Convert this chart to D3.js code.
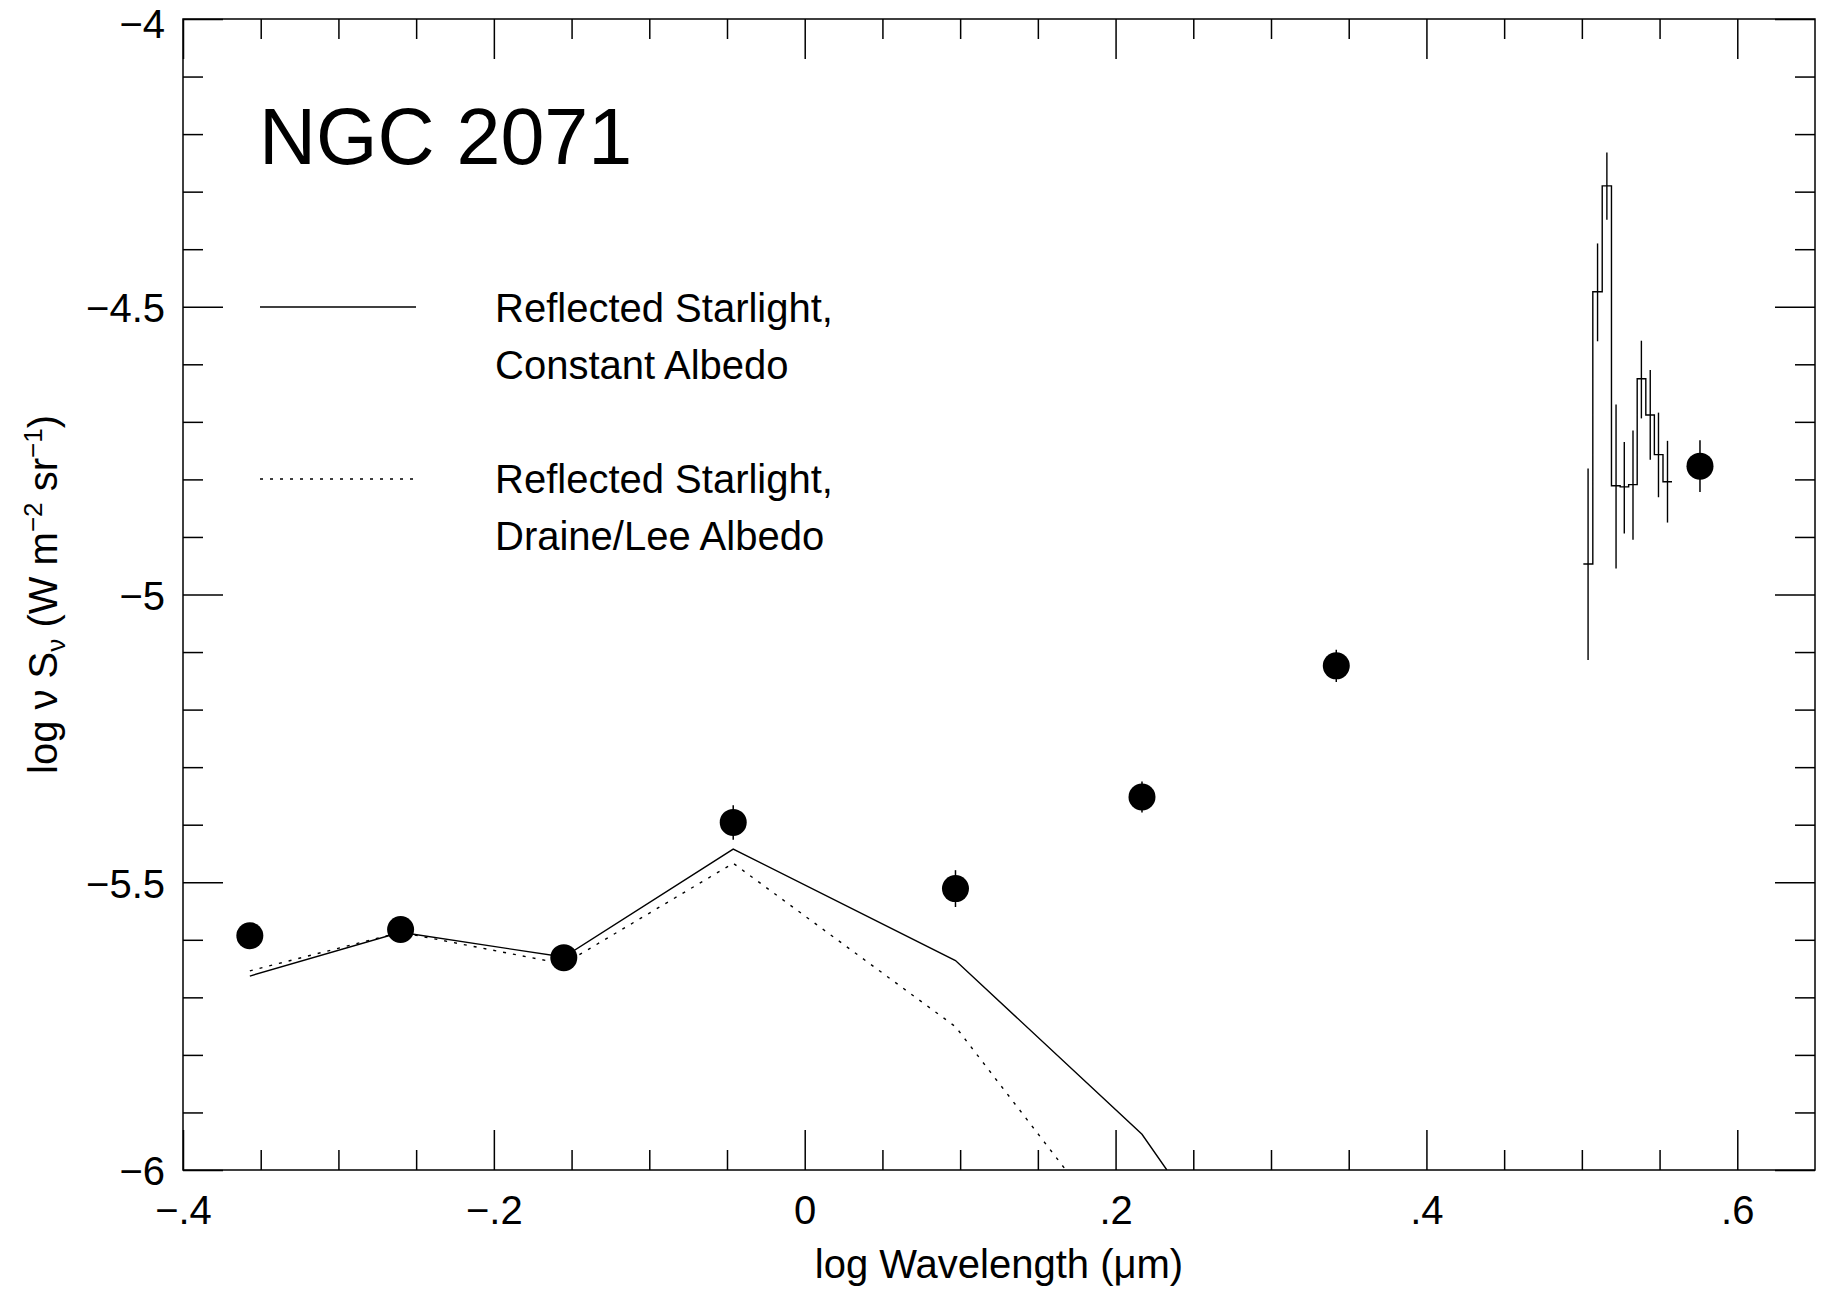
<!DOCTYPE html>
<html>
<head>
<meta charset="utf-8">
<script src="https://cdn.jsdelivr.net/npm/d3@7"></script>
<style>
  body { margin: 0; background: #fff; }
  svg { display: block; font-family: "Liberation Sans", Arial, Helvetica, sans-serif; }
  .axis path { display: none; }
  .axis line { stroke: #000; stroke-width: 1.5; }
  .axis text { font-size: 40px; fill: #000; font-family: "Liberation Sans", Arial, sans-serif; }
</style>
</head>
<body>
<svg width="1827" height="1297"></svg>
<script>
// broadband photometry (filled circles)
const photX = [-0.357, -0.260, -0.155, -0.046, 0.097, 0.217, 0.342, 0.576];
const photY = [-5.593, -5.582, -5.631, -5.396, -5.511, -5.352, -5.124, -4.777];
const photErr = [0.015, 0.015, 0.015, 0.030, 0.032, 0.027, 0.028, 0.045];

// reflected starlight models
const constX = [-0.357, -0.260, -0.155, -0.046, 0.097, 0.217, 0.233];
const constAlbedo = [-5.663, -5.587, -5.630, -5.4425, -5.636, -5.938, -6.0];
const draineX = [-0.357, -0.260, -0.155, -0.046, 0.097, 0.168];
const draineLee = [-5.654, -5.587, -5.642, -5.467, -5.751, -6.0];

// spectrum bins
const specX = [0.5040, 0.5101, 0.5161, 0.5220, 0.5273, 0.5329, 0.5383, 0.5440, 0.5493, 0.5551];
const specY = [-4.947, -4.474, -4.290, -4.811, -4.813, -4.809, -4.625, -4.688, -4.757, -4.804];
const specLo = [-5.114, -4.560, -4.349, -4.955, -4.894, -4.905, -4.694, -4.766, -4.831, -4.875];
const specHi = [-4.781, -4.390, -4.232, -4.670, -4.735, -4.715, -4.559, -4.610, -4.684, -4.733];

// ticks
const xMajor = [-0.4, -0.2, 0, 0.2, 0.4, 0.6];
const xMinor = [-0.35, -0.3, -0.25, -0.15, -0.1, -0.05, 0.05, 0.1, 0.15, 0.25, 0.3, 0.35, 0.45, 0.5, 0.55];
const yMajor = [-6, -5.5, -5, -4.5, -4];
const yMinor = [-5.9, -5.8, -5.7, -5.6, -5.4, -5.3, -5.2, -5.1, -4.9, -4.8, -4.7, -4.6, -4.4, -4.3, -4.2, -4.1];

const legendLabels = [
  ['Reflected Starlight,', 'Constant Albedo'],
  ['Reflected Starlight,', 'Draine/Lee Albedo']
];

const mLeft = 183, mRight = 1815, mTop = 19, mBottom = 1170;

const x = d3.scaleLinear().domain([-0.4, 0.65]).range([mLeft, mRight]);
const y = d3.scaleLinear().domain([-6, -4]).range([mBottom, mTop]);

const svg = d3.select('svg');

const xFmt = (d) => d === 0 ? '0' : d3.format('.1f')(d).replace('0.', '.');
const yFmt = d3.format('');

// frame
svg.append('rect')
  .attr('x', mLeft).attr('y', mTop)
  .attr('width', mRight - mLeft).attr('height', mBottom - mTop)
  .attr('fill', 'none').attr('stroke', '#000').attr('stroke-width', 1.5);

// ticks on all four sides, pointing inward
const addAxis = (axisFn, pos, values, size, fmt) => {
  return svg.append('g')
    .attr('class', 'axis')
    .attr('transform', pos)
    .call(axisFn.tickValues(values).tickSizeInner(-size).tickSizeOuter(0).tickFormat(fmt || (() => '')));
};

const bx = addAxis(d3.axisBottom(x), `translate(0,${mBottom})`, xMajor, 40, xFmt);
bx.selectAll('text').attr('dy', null).attr('y', 54);
addAxis(d3.axisBottom(x), `translate(0,${mBottom})`, xMinor, 20);
addAxis(d3.axisTop(x), `translate(0,${mTop})`, xMajor, 40);
addAxis(d3.axisTop(x), `translate(0,${mTop})`, xMinor, 20);

const ly = addAxis(d3.axisLeft(y), `translate(${mLeft},0)`, yMajor, 40, yFmt);
ly.selectAll('text').attr('x', -18).attr('dy', (d) => d === -4 ? '0.45em' : '0.37em');
addAxis(d3.axisLeft(y), `translate(${mLeft},0)`, yMinor, 20);
addAxis(d3.axisRight(y), `translate(${mRight},0)`, yMajor, 40);
addAxis(d3.axisRight(y), `translate(${mRight},0)`, yMinor, 20);

// axis titles
svg.append('text')
  .attr('x', (mLeft + mRight) / 2).attr('y', 1278)
  .attr('text-anchor', 'middle')
  .attr('font-size', 40)
  .text('log Wavelength (\u03bcm)');

const yt = svg.append('text')
  .attr('transform', `translate(57,${(mTop + mBottom) / 2}) rotate(-90)`)
  .attr('text-anchor', 'middle')
  .attr('font-size', 40);
yt.append('tspan').text('log \u03bd S');
yt.append('tspan').attr('dy', 8).attr('font-size', 26).text('\u03bd');
yt.append('tspan').attr('dy', -8).text(' (W m');
yt.append('tspan').attr('dy', -15).attr('font-size', 26).text('\u22122');
yt.append('tspan').attr('dy', 15).text(' sr');
yt.append('tspan').attr('dy', -15).attr('font-size', 26).text('\u22121');
yt.append('tspan').attr('dy', 15).text(')');

// title
svg.append('text')
  .attr('x', 259).attr('y', 164)
  .attr('font-size', 79)
  .text('NGC 2071');

// clip for the model curves
svg.append('clipPath').attr('id', 'plotClip')
  .append('rect')
  .attr('x', mLeft).attr('y', mTop)
  .attr('width', mRight - mLeft).attr('height', mBottom - mTop);

const line = d3.line().x((d) => x(d[0])).y((d) => y(d[1]));

svg.append('path')
  .attr('clip-path', 'url(#plotClip)')
  .attr('d', line(d3.zip(constX, constAlbedo)))
  .attr('fill', 'none').attr('stroke', '#000').attr('stroke-width', 1.4);

svg.append('path')
  .attr('clip-path', 'url(#plotClip)')
  .attr('d', line(d3.zip(draineX, draineLee)))
  .attr('fill', 'none').attr('stroke', '#000').attr('stroke-width', 1.4)
  .attr('stroke-dasharray', '3,7');

// legend
const legend = svg.append('g');
legend.append('line')
  .attr('x1', 260).attr('x2', 416).attr('y1', 307).attr('y2', 307)
  .attr('stroke', '#000').attr('stroke-width', 1.4);
legend.append('line')
  .attr('x1', 260).attr('x2', 416).attr('y1', 479).attr('y2', 479)
  .attr('stroke', '#000').attr('stroke-width', 1.4)
  .attr('stroke-dasharray', '3,7');
legendLabels.forEach((lines, i) => {
  lines.forEach((t, j) => {
    legend.append('text')
      .attr('x', 495)
      .attr('y', 322 + i * 171 + j * 57)
      .attr('font-size', 40)
      .text(t);
  });
});

// spectrum as a step histogram
const edges = specX.map((c, i) => {
  if (i === 0) return c - (specX[1] - specX[0]) / 2;
  return (specX[i - 1] + c) / 2;
});
edges.push(specX[specX.length - 1] + (specX[specX.length - 1] - specX[specX.length - 2]) / 2);
const stepPts = edges.map((e, i) => [e, specY[Math.min(i, specY.length - 1)]]);

svg.append('path')
  .attr('d', d3.line().curve(d3.curveStepAfter).x((d) => x(d[0])).y((d) => y(d[1]))(stepPts))
  .attr('fill', 'none').attr('stroke', '#000').attr('stroke-width', 1.4);

svg.append('g')
  .selectAll('line')
  .data(d3.range(specX.length))
  .enter().append('line')
  .attr('x1', (i) => x(specX[i])).attr('x2', (i) => x(specX[i]))
  .attr('y1', (i) => y(specLo[i])).attr('y2', (i) => y(specHi[i]))
  .attr('stroke', '#000').attr('stroke-width', 1.4);

// photometry
const phot = svg.append('g')
  .selectAll('g')
  .data(d3.range(photX.length))
  .enter().append('g');

phot.append('line')
  .attr('x1', (i) => x(photX[i])).attr('x2', (i) => x(photX[i]))
  .attr('y1', (i) => y(photY[i] - photErr[i])).attr('y2', (i) => y(photY[i] + photErr[i]))
  .attr('stroke', '#000').attr('stroke-width', 1.5);

phot.append('circle')
  .attr('cx', (i) => x(photX[i]))
  .attr('cy', (i) => y(photY[i]))
  .attr('r', 13.5)
  .attr('fill', '#000');
</script>
</body>
</html>
